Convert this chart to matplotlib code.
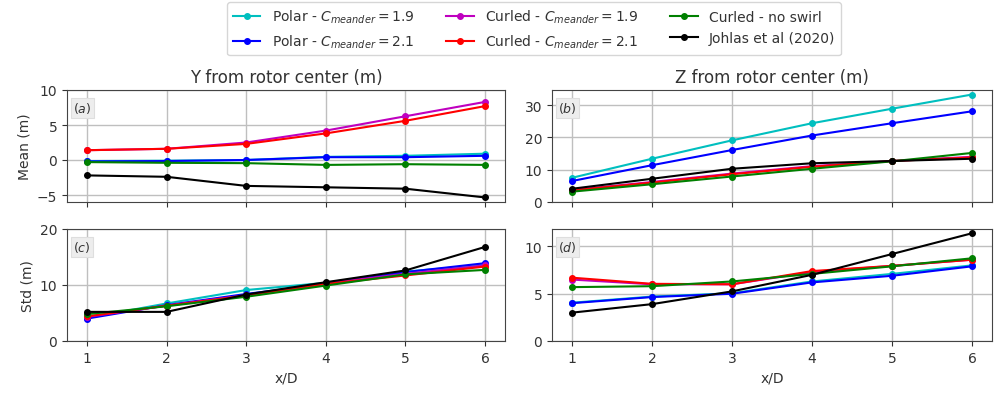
import matplotlib
matplotlib.use("Agg")
import matplotlib.pyplot as plt

x = [1, 2, 3, 4, 5, 6]

labels = [r'Polar - $C_{meander} = 1.9$', r'Polar - $C_{meander} = 2.1$',
          r'Curled - $C_{meander} = 1.9$', r'Curled - $C_{meander} = 2.1$',
          'Curled - no swirl', 'Johlas et al (2020)']
colors = ['c', 'b', 'm', 'r', 'g', 'k']

# (a) Mean Y
mean_y_polar19 = [-0.15, -0.1, 0.0, 0.45, 0.6, 0.9]
mean_y_polar21 = [-0.2, -0.15, 0.0, 0.4, 0.4, 0.6]
mean_y_curled19 = [1.4, 1.6, 2.5, 4.2, 6.25, 8.3]
mean_y_curled21 = [1.4, 1.6, 2.3, 3.8, 5.6, 7.7]
mean_y_noswirl = [-0.3, -0.4, -0.45, -0.7, -0.6, -0.7]
mean_y_johlas = [-2.2, -2.4, -3.7, -3.9, -4.1, -5.35]

# (b) Mean Z
mean_z_polar19 = [7.5, 13.4, 19.1, 24.4, 28.9, 33.3]
mean_z_polar21 = [6.5, 11.4, 16.1, 20.6, 24.4, 28.1]
mean_z_curled19 = [3.7, 6.2, 8.8, 11.1, 12.7, 14.0]
mean_z_curled21 = [3.6, 6.0, 8.6, 10.9, 12.7, 13.8]
mean_z_noswirl = [3.2, 5.5, 7.9, 10.3, 12.6, 15.2]
mean_z_johlas = [4.1, 7.2, 10.3, 12.0, 12.7, 13.4]

# (c) Std Y
std_y_polar19 = [4.1, 6.7, 9.1, 10.4, 12.4, 13.6]
std_y_polar21 = [4.0, 6.4, 8.4, 10.2, 12.3, 13.9]
std_y_curled19 = [4.3, 6.3, 8.2, 10.3, 12.0, 13.5]
std_y_curled21 = [4.4, 6.3, 8.1, 10.2, 11.7, 13.3]
std_y_noswirl = [4.8, 6.2, 7.9, 9.9, 11.9, 12.7]
std_y_johlas = [5.2, 5.2, 8.3, 10.5, 12.6, 16.8]

# (d) Std Z
std_z_polar19 = [4.05, 4.7, 5.05, 6.3, 7.1, 8.0]
std_z_polar21 = [4.0, 4.65, 5.0, 6.2, 6.9, 7.9]
std_z_curled19 = [6.5, 6.0, 6.0, 7.3, 7.95, 8.6]
std_z_curled21 = [6.7, 6.05, 6.0, 7.4, 7.95, 8.6]
std_z_noswirl = [5.7, 5.8, 6.3, 7.1, 7.9, 8.75]
std_z_johlas = [3.0, 3.9, 5.25, 7.0, 9.2, 11.4]

panels = [
    [mean_y_polar19, mean_y_polar21, mean_y_curled19, mean_y_curled21, mean_y_noswirl, mean_y_johlas],
    [mean_z_polar19, mean_z_polar21, mean_z_curled19, mean_z_curled21, mean_z_noswirl, mean_z_johlas],
    [std_y_polar19, std_y_polar21, std_y_curled19, std_y_curled21, std_y_noswirl, std_y_johlas],
    [std_z_polar19, std_z_polar21, std_z_curled19, std_z_curled21, std_z_noswirl, std_z_johlas],
]
tags = ['$(a)$', '$(b)$', '$(c)$', '$(d)$']

W, H = 995, 406
fig = plt.figure(figsize=(W / 100, H / 100), dpi=100)

def rect(x0, x1, y0, y1):
    return [x0 / W, 1 - y1 / H, (x1 - x0) / W, (y1 - y0) / H]

rects = [rect(67, 505, 91, 203), rect(552, 992, 91, 203),
         rect(67, 505, 230, 342), rect(552, 992, 230, 342)]
ylims = [(-6.0, 10.0), (0, 34.7), (0, 20), (0, 11.85)]
yticks = [[-5, 0, 5, 10], [0, 10, 20, 30], [0, 10, 20], [0, 5, 10]]

fs = 10
tc = '#333333'
axes = []
for i, r in enumerate(rects):
    ax = fig.add_axes(r)
    axes.append(ax)
    for series, c, lab in zip(panels[i], colors, labels):
        ax.plot(x, series, '-o', color=c, lw=1.5, ms=4, label=lab)
    ax.set_xlim(0.75, 6.25)
    ax.set_ylim(*ylims[i])
    ax.set_yticks(yticks[i])
    ax.set_xticks(x)
    ax.grid(True, color='0.75', lw=1.0)
    ax.set_axisbelow(True)
    ax.tick_params(labelsize=fs, colors=tc)
    for s in ax.spines.values():
        s.set_color('#444444')
    if i < 2:
        ax.tick_params(labelbottom=False)
    else:
        ax.set_xlabel('x/D', fontsize=fs, color=tc)
    ax.text(0.014, 0.91, tags[i], transform=ax.transAxes, ha='left', va='top',
            fontsize=9, color=tc, zorder=5,
            bbox=dict(boxstyle='square,pad=0.2', facecolor='0.93', edgecolor='0.87', lw=0.8))

axes[0].set_title('Y from rotor center (m)', fontsize=12, color=tc)
axes[1].set_title('Z from rotor center (m)', fontsize=12, color=tc)
axes[0].set_ylabel('Mean (m)', fontsize=fs, color=tc)
axes[2].set_ylabel('Std (m)', fontsize=fs, color=tc)

handles, labs = axes[0].get_legend_handles_labels()
leg = fig.legend(handles, labs, loc='upper center', bbox_to_anchor=(0.5367, 1.0), ncol=3,
                 fontsize=fs, frameon=True, edgecolor='0.8', borderaxespad=0.25,
                 columnspacing=2.3)
for t in leg.get_texts():
    t.set_color(tc)

fig.savefig('out.png', dpi=100)
